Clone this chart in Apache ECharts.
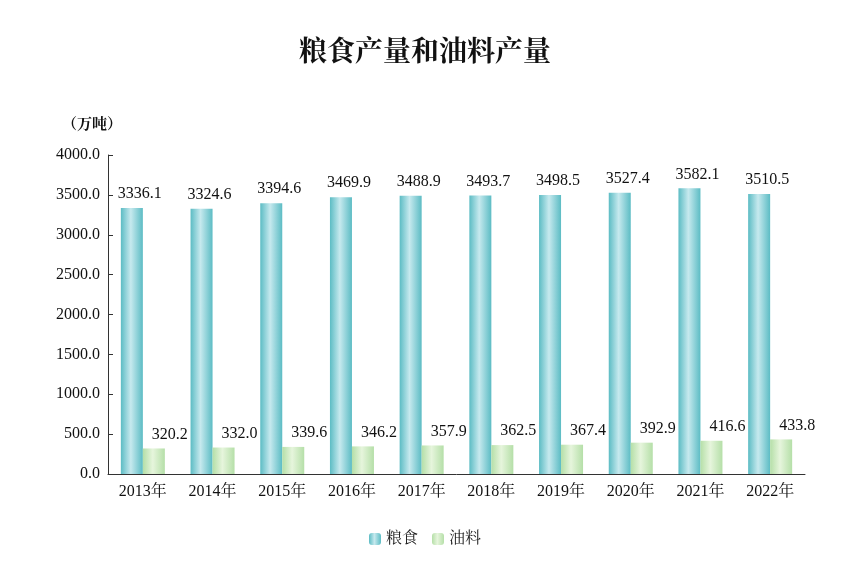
<!DOCTYPE html>
<html>
<head>
<meta charset="utf-8">
<script src="https://cdn.jsdelivr.net/npm/echarts@6/dist/echarts.min.js"></script>
<style>html,body{margin:0;padding:0;background:#fff}#chart{width:850px;height:587px}</style>
</head>
<body>
<div id="chart"></div>
<script>
var years = ['2013年', '2014年', '2015年', '2016年', '2017年', '2018年', '2019年', '2020年', '2021年', '2022年'];
var grain = [3336.1, 3324.6, 3394.6, 3469.9, 3488.9, 3493.7, 3498.5, 3527.4, 3582.1, 3510.5];
var oil = [320.2, 332.0, 339.6, 346.2, 357.9, 362.5, 367.4, 392.9, 416.6, 433.8];

var serif = '"Liberation Serif", "Noto Serif CJK SC", "Noto Sans CJK SC", serif';

function grad(c1, c2) {
    return new echarts.graphic.LinearGradient(0, 0, 1, 0, [
        {offset: 0, color: c1}, {offset: 0.45, color: c2}, {offset: 1, color: c1}
    ]);
}

var myChart = echarts.init(document.getElementById('chart'));
myChart.setOption({
    animation: false,
    title: {
        text: '粮食产量和油料产量', left: 'center', top: 35,
        textStyle: {fontFamily: serif, fontSize: 28, fontWeight: 'bold', color: '#111'}
    },
    graphic: [{
        type: 'text', left: 62, top: 118,
        style: {text: '（万吨）', font: 'bold 15px ' + serif, fill: '#111'}
    }],
    legend: {
        bottom: 35, left: 'center', itemWidth: 12, itemHeight: 12, itemGap: 14,
        textStyle: {fontFamily: serif, fontSize: 16, color: '#222'},
        data: ['粮食', '油料']
    },
    grid: {left: 108, right: 45, top: 155, bottom: 113},
    xAxis: {
        type: 'category', data: years,
        axisLine: {lineStyle: {color: '#333'}},
        axisTick: {inside: true, length: 5, lineStyle: {color: '#333'}},
        axisLabel: {fontFamily: serif, fontSize: 16, color: '#111', margin: 10}
    },
    yAxis: {
        type: 'value', min: 0, max: 4000, interval: 500,
        splitLine: {show: false},
        axisLine: {show: true, lineStyle: {color: '#333'}},
        axisTick: {show: true, inside: true, length: 5, lineStyle: {color: '#333'}},
        axisLabel: {fontFamily: serif, fontSize: 16, color: '#111', formatter: function (v) { return v.toFixed(1); }}
    },
    series: [{
        name: '粮食', type: 'bar', data: grain, barWidth: 22, barGap: '0%',
        itemStyle: {color: grad('#5cbcc4', '#c6e9ee')},
        label: {show: true, position: 'top', offset: [8, -1], fontFamily: serif, fontSize: 16, color: '#111',
            formatter: function (p) { return p.value.toFixed(1); }}
    }, {
        name: '油料', type: 'bar', data: oil, barWidth: 22,
        itemStyle: {color: grad('#b5dfa8', '#e6f5dc')},
        label: {show: true, position: 'top', offset: [16, -1], fontFamily: serif, fontSize: 16, color: '#111',
            formatter: function (p) { return p.value.toFixed(1); }}
    }]
});
</script>
</body>
</html>
